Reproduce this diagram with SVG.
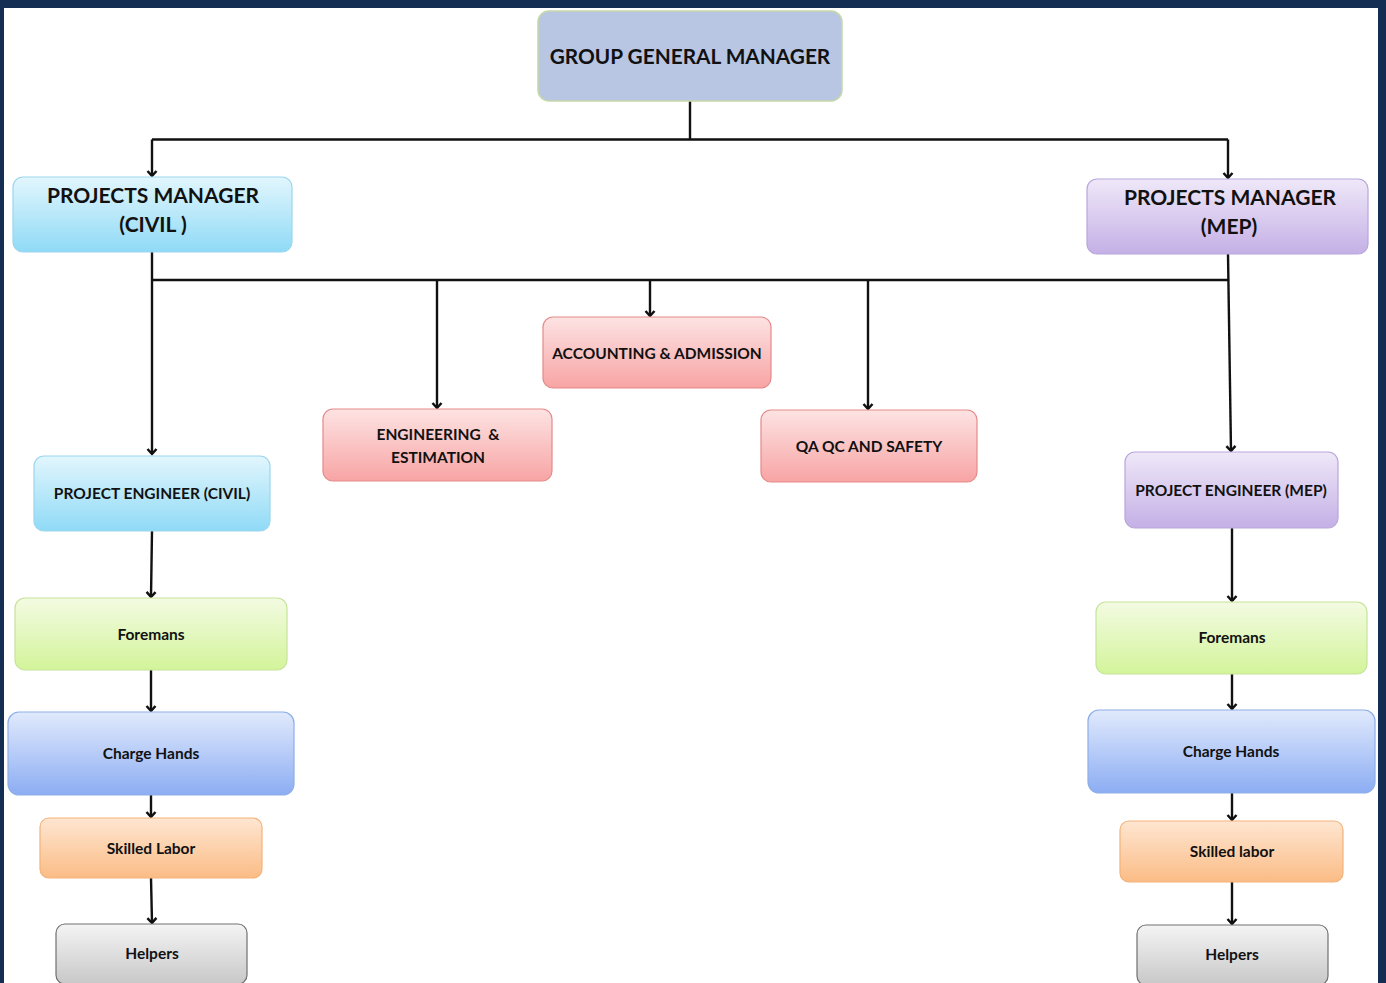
<svg xmlns="http://www.w3.org/2000/svg" width="1386" height="983" viewBox="0 0 1386 983">
<style>
.t{font-family:Lato,"Open Sans","Liberation Sans",sans-serif;font-weight:bold;fill:#111;text-anchor:middle}
.big{font-size:21px}
.mid{font-size:15.5px}
.ln{stroke:#111;stroke-width:2.4;fill:none}
.ar{stroke:#111;stroke-width:2.4;fill:none;marker-end:url(#arr)}
</style>
<defs>
<marker id="arr" markerWidth="12" markerHeight="12" refX="6" refY="6" orient="auto" markerUnits="userSpaceOnUse">
<path d="M1,1.5 L6,6 L1,10.5" fill="none" stroke="#111" stroke-width="2.5"/>
</marker>
<linearGradient id="gCyan" x1="0" y1="0" x2="0" y2="1"><stop offset="0" stop-color="#e2f6fd"/><stop offset="1" stop-color="#8fdaf6"/></linearGradient>
<linearGradient id="gPur" x1="0" y1="0" x2="0" y2="1"><stop offset="0" stop-color="#efe8f8"/><stop offset="1" stop-color="#c4b0e6"/></linearGradient>
<linearGradient id="gPink" x1="0" y1="0" x2="0" y2="1"><stop offset="0" stop-color="#fde3e3"/><stop offset="1" stop-color="#f8a4a4"/></linearGradient>
<linearGradient id="gGreen" x1="0" y1="0" x2="0" y2="1"><stop offset="0" stop-color="#f3fbe2"/><stop offset="1" stop-color="#d3f49a"/></linearGradient>
<linearGradient id="gBlue" x1="0" y1="0" x2="0" y2="1"><stop offset="0" stop-color="#e1eafc"/><stop offset="1" stop-color="#8cadf3"/></linearGradient>
<linearGradient id="gOr" x1="0" y1="0" x2="0" y2="1"><stop offset="0" stop-color="#fee6d1"/><stop offset="1" stop-color="#fbbc86"/></linearGradient>
<linearGradient id="gGray" x1="0" y1="0" x2="0" y2="1"><stop offset="0" stop-color="#f4f4f4"/><stop offset="1" stop-color="#c8c8c8"/></linearGradient>
</defs>
<rect x="0" y="0" width="1386" height="983" fill="#132e52"/>
<rect x="4" y="8" width="1374" height="975" fill="#ffffff"/>

<g id="connectors">
<path class="ln" d="M690,101 V139.5 M152,139.5 H1228"/>
<path class="ar" d="M152,139.5 V176"/>
<path class="ar" d="M1228,139.5 V178"/>
<path class="ln" d="M152,280 H1228"/>
<path class="ar" d="M152,252 V454"/>
<path class="ar" d="M437,280 V408"/>
<path class="ar" d="M650,280 V316"/>
<path class="ar" d="M868,280 V409"/>
<path class="ar" d="M1228,254 L1231,451"/>
<path class="ar" d="M152,531 L151,597"/>
<path class="ar" d="M151,670 V711"/>
<path class="ar" d="M151,795 V817"/>
<path class="ar" d="M151,878 L152,923"/>
<path class="ar" d="M1232,528 V601"/>
<path class="ar" d="M1232,674 V709"/>
<path class="ar" d="M1232,793 V820"/>
<path class="ar" d="M1232,882 V924"/>
</g>

<g id="ggm">
<rect x="538" y="11" width="304" height="90" rx="11" fill="#b8c6e4" stroke="#c5d8a6" stroke-width="1.5"/>
<text class="t" x="690" y="64" font-size="20.8">GROUP GENERAL MANAGER</text>
</g>
<g id="pm-civil">
<rect x="13" y="177" width="279" height="75" rx="10" fill="url(#gCyan)" stroke="#9cd6ee" stroke-width="1.2"/>
<text class="t big" x="153" y="203">PROJECTS MANAGER</text>
<text class="t big" x="153" y="232">(CIVIL )</text>
</g>
<g id="pm-mep">
<rect x="1087" y="179" width="281" height="75" rx="10" fill="url(#gPur)" stroke="#b8a6dc" stroke-width="1.2"/>
<text class="t big" x="1230" y="205">PROJECTS MANAGER</text>
<text class="t big" x="1229" y="234">(MEP)</text>
</g>
<g id="accounting">
<rect x="543" y="317" width="228" height="71" rx="10" fill="url(#gPink)" stroke="#e58a8a" stroke-width="1.2"/>
<text class="t mid" x="657" y="359">ACCOUNTING &amp; ADMISSION</text>
</g>
<g id="engineering">
<rect x="323" y="409" width="229" height="72" rx="10" fill="url(#gPink)" stroke="#e58a8a" stroke-width="1.2"/>
<text class="t mid" x="438" y="440">ENGINEERING &#160;&amp;</text>
<text class="t mid" x="438" y="463">ESTIMATION</text>
</g>
<g id="qa">
<rect x="761" y="410" width="216" height="72" rx="10" fill="url(#gPink)" stroke="#e58a8a" stroke-width="1.2"/>
<text class="t mid" x="869" y="452">QA QC AND SAFETY</text>
</g>
<g id="pe-civil">
<rect x="34" y="456" width="236" height="75" rx="10" fill="url(#gCyan)" stroke="#9cd6ee" stroke-width="1.2"/>
<text class="t mid" x="152" y="499">PROJECT ENGINEER (CIVIL)</text>
</g>
<g id="pe-mep">
<rect x="1125" y="452" width="213" height="76" rx="10" fill="url(#gPur)" stroke="#b8a6dc" stroke-width="1.2"/>
<text class="t mid" x="1231" y="496">PROJECT ENGINEER (MEP)</text>
</g>
<g id="foremans-civil">
<rect x="15" y="598" width="272" height="72" rx="10" fill="url(#gGreen)" stroke="#c5e39a" stroke-width="1.2"/>
<text class="t mid" x="151" y="640">Foremans</text>
</g>
<g id="foremans-mep">
<rect x="1096" y="602" width="271" height="72" rx="10" fill="url(#gGreen)" stroke="#c5e39a" stroke-width="1.2"/>
<text class="t mid" x="1232" y="643">Foremans</text>
</g>
<g id="charge-civil">
<rect x="8" y="712" width="286" height="83" rx="11" fill="url(#gBlue)" stroke="#8eaee8" stroke-width="1.2"/>
<text class="t mid" x="151" y="759">Charge Hands</text>
</g>
<g id="charge-mep">
<rect x="1088" y="710" width="287" height="83" rx="11" fill="url(#gBlue)" stroke="#8eaee8" stroke-width="1.2"/>
<text class="t mid" x="1231" y="757">Charge Hands</text>
</g>
<g id="skilled-civil">
<rect x="40" y="818" width="222" height="60" rx="9" fill="url(#gOr)" stroke="#f3b27a" stroke-width="1.2"/>
<text class="t mid" x="151" y="854">Skilled Labor</text>
</g>
<g id="skilled-mep">
<rect x="1120" y="821" width="223" height="61" rx="9" fill="url(#gOr)" stroke="#f3b27a" stroke-width="1.2"/>
<text class="t mid" x="1232" y="857">Skilled labor</text>
</g>
<g id="helpers-civil">
<rect x="56" y="924" width="191" height="60" rx="9" fill="url(#gGray)" stroke="#707070" stroke-width="1.2"/>
<text class="t mid" x="152" y="959">Helpers</text>
</g>
<g id="helpers-mep">
<rect x="1137" y="925" width="191" height="60" rx="9" fill="url(#gGray)" stroke="#707070" stroke-width="1.2"/>
<text class="t mid" x="1232" y="960">Helpers</text>
</g>
</svg>
